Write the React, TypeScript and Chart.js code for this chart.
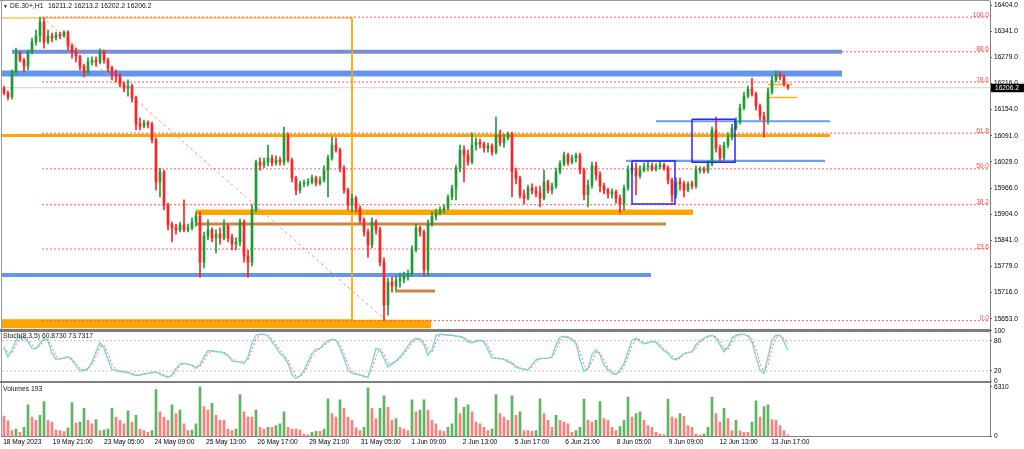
import { useEffect, useRef } from "react";
import { Chart, registerables } from "chart.js";

Chart.register(...registerables);

// ---------- data ----------
const SYMBOL = "DE.30+,H1";

const OPEN = [
  16205,16194,16184,16244,16289,16272,16258,16292,16316,16330,
  16363,16316,16330,16325,16332,16330,16339,16306,16292,16282,
  16258,16244,16268,16272,16268,16292,16272,16253,16239,16234,
  16215,16205,16210,16182,16119,16115,16122,16119,16081,15981,
  16005,15926,15878,15871,15866,15878,15866,15871,15885,15899,
  15789,15851,15866,15847,15856,15847,15875,15847,15832,15837,
  15885,15804,15789,15914,16028,16021,16028,16038,16026,16033,
  16028,16088,16033,15990,15961,15976,15978,15981,15990,15978,
  15985,16009,16038,16069,16057,16014,15961,15926,15942,15918,
  15890,15861,15830,15885,15866,15789,15686,15741,15732,15744,
  15749,15756,15761,15818,15871,15861,15770,15880,15899,15906,
  15914,15918,15945,15966,16014,16057,16045,16028,16069,16076,
  16072,16062,16067,16052,16093,16074,16086,16095,16005,15990,
  15950,15942,15966,15959,15954,15942,15981,15961,15971,16005,
  16024,16045,16028,16038,16045,16009,15950,15973,16019,15997,
  15971,15961,15952,15957,15942,15928,15966,16009,16014,15995,
  16009,16017,16019,16012,16017,16021,16014,15985,15950,15981,
  15976,15961,15976,15971,16009,16012,16007,16024,16105,16062,
  16038,16069,16088,16110,16124,16158,16186,16203,16191,16162,
  16138,16129,16196,16225,16237,16232,16211.2,
];
const HIGH = [
  16210,16198,16249,16301,16292,16277,16296,16325,16344,16375,
  16373,16344,16337,16339,16339,16342,16342,16311,16301,16284,
  16263,16277,16280,16280,16299,16296,16277,16258,16249,16239,
  16220,16225,16215,16186,16134,16129,16127,16124,16086,16014,
  16009,15930,15885,15880,15885,15938,15880,15895,15909,15909,
  15861,15890,15871,15866,15871,15890,15880,15856,15847,15892,
  15890,15818,15926,16033,16038,16038,16069,16045,16043,16040,
  16112,16098,16038,15995,15983,15985,15988,15997,15995,15993,
  16019,16045,16088,16086,16062,16019,15966,15952,15947,15923,
  15895,15868,15895,15890,15873,15799,15751,15753,15756,15763,
  15765,15770,15828,15880,15875,15866,15890,15909,15916,15921,
  15926,15950,15973,16021,16069,16067,16057,16098,16086,16083,
  16076,16074,16072,16136,16105,16095,16100,16100,16014,15995,
  15961,15973,15976,15969,15971,16009,15985,15978,16014,16031,
  16052,16050,16045,16050,16050,16014,15985,16028,16028,16005,
  15978,15966,15964,15961,15950,15973,16019,16024,16026,16019,
  16026,16031,16026,16024,16028,16026,16019,15990,15990,15990,
  15983,15981,15983,16019,16017,16017,16031,16112,16136,16069,
  16076,16098,16119,16134,16167,16196,16210,16229,16196,16167,
  16148,16205,16234,16246,16244,16237,16213.2,
];
const LOW = [
  16189,16177,16179,16239,16268,16244,16249,16287,16308,16316,
  16301,16311,16316,16320,16323,16327,16296,16277,16268,16249,
  16232,16239,16260,16258,16263,16265,16244,16225,16220,16208,
  16196,16186,16172,16105,16105,16110,16110,16074,15961,15945,
  15914,15866,15837,15856,15861,15861,15861,15866,15875,15753,
  15775,15842,15837,15811,15832,15842,15837,15818,15818,15828,
  15789,15753,15780,15909,16009,16014,16019,16019,16021,16021,
  16021,16028,15981,15950,15954,15969,15971,15976,15971,15973,
  15981,15945,16033,16052,16005,15954,15914,15909,15909,15883,
  15851,15801,15823,15856,15780,15649,15662,15717,15722,15729,
  15739,15746,15756,15813,15851,15756,15756,15875,15890,15902,
  15906,15914,15938,15938,16005,15981,16021,16024,16057,16062,
  16052,16052,16045,16048,16067,16064,16081,15945,15976,15942,
  15928,15938,15952,15945,15921,15938,15954,15952,15966,16000,
  16019,16021,16024,16028,16000,15938,15921,15966,15985,15957,
  15952,15942,15942,15930,15906,15914,15961,16000,15950,15990,
  16005,16007,16007,16007,16012,16009,15976,15933,15942,15961,
  15945,15957,15964,15966,16002,16002,16002,16019,16052,16031,
  16033,16062,16081,16105,16119,16153,16182,16186,16153,16129,
  16088,16119,16191,16220,16225,16210,16202.2,
];
const CLOSE = [
  16194,16184,16244,16289,16272,16258,16292,16316,16330,16363,
  16316,16330,16325,16332,16330,16339,16306,16292,16282,16258,
  16244,16268,16272,16268,16292,16272,16253,16239,16234,16215,
  16205,16210,16182,16119,16115,16122,16119,16081,15981,16005,
  15926,15878,15871,15866,15878,15866,15871,15885,15899,15789,
  15851,15866,15847,15856,15847,15875,15847,15832,15837,15885,
  15804,15789,15914,16028,16021,16028,16038,16026,16033,16028,
  16088,16033,15990,15961,15976,15978,15981,15990,15978,15985,
  16009,16038,16069,16057,16014,15961,15926,15942,15918,15890,
  15861,15830,15885,15866,15789,15686,15741,15732,15744,15749,
  15756,15761,15818,15871,15861,15770,15880,15899,15906,15914,
  15918,15945,15966,16014,16057,16045,16028,16069,16076,16072,
  16062,16067,16052,16093,16074,16086,16095,16005,15990,15950,
  15942,15966,15959,15954,15942,15981,15961,15971,16005,16024,
  16045,16028,16038,16045,16009,15950,15973,16019,15997,15971,
  15961,15952,15957,15942,15928,15966,16009,16014,15995,16009,
  16017,16019,16012,16017,16021,16014,15985,15950,15981,15976,
  15961,15976,15971,16009,16012,16007,16024,16105,16062,16038,
  16069,16088,16110,16124,16158,16186,16203,16191,16162,16138,
  16129,16196,16225,16237,16232,16215,16206.2,
];
const VOLUME = [
  2600,2000,740,950,520,1170,4000,2470,2040,2690,
  4430,2040,1820,820,740,610,1085,4300,1690,1820,
  3560,2040,1600,2130,740,820,950,3560,2470,2040,
  1600,3250,1820,2690,950,740,520,740,5950,3130,
  2470,2040,4000,2900,3340,1600,740,820,1600,6300,
  3780,3340,4200,2690,2040,2040,950,740,950,5300,
  3130,2470,2470,3340,1170,950,1170,1170,1390,1600,
  3130,1170,950,950,820,300,220,520,650,650,
  950,4770,2900,2470,4640,3560,2470,2040,1085,740,
  1170,6160,3560,2260,3560,5160,3690,2040,2260,1170,
  950,740,4640,3130,3340,4640,3340,2040,1600,740,
  650,1170,1600,4860,2900,3690,4000,3130,1820,1600,
  1170,740,950,5300,2900,2470,2040,5160,2690,3130,
  740,740,650,740,4770,2900,2040,1170,2690,2040,
  1820,1600,520,740,1170,4730,2040,1820,2040,4430,
  2260,2040,1170,740,1260,2040,5000,2470,2900,3130,
  2040,1390,1170,520,300,220,4730,2470,2260,2900,
  2560,1390,1170,300,170,300,1170,5000,2900,1820,
  3560,2260,740,2040,740,520,520,1820,4510,2470,
  3780,4000,2130,2040,1390,740,193,
];
const STOCH_PARAMS = "8,3,5";
const STOCH_MAIN = [
  65,48,62,81,90,85,78,65,64,75,
  85,80,55,43,44,46,48,42,30,21,
  21,25,38,58,76,65,42,23,21,19,
  18,17,13,11,12,14,15,17,18,13,
  10,7,12,25,34,35,33,31,25,32,
  48,60,60,58,58,55,50,40,38,38,
  35,48,75,91,93,93,89,78,68,55,
  48,35,12,5,10,21,38,55,63,65,
  74,80,83,81,65,45,22,15,14,12,
  9,7,35,65,62,45,28,35,40,48,
  58,70,80,85,83,72,52,62,91,93,
  92,91,91,89,88,85,78,76,80,81,
  78,62,46,45,44,43,38,35,27,25,
  23,22,32,42,45,45,45,48,72,87,
  89,86,83,74,42,19,25,52,62,52,
  32,22,15,13,22,35,58,81,85,78,
  74,76,79,77,68,60,55,45,42,48,
  55,57,58,72,80,85,89,91,85,72,
  58,68,85,91,93,93,89,78,48,22,
  15,48,81,91,91,78,60.873,
];
const STOCH_SIGNAL = [
  68,56,55,72,86,88,82,72,65,70,
  80,83,68,49,44,45,47,45,36,26,
  21,23,32,48,67,71,54,33,22,20,
  19,18,15,12,12,13,15,16,18,16,
  12,9,10,19,30,35,34,32,28,29,
  40,54,60,59,58,57,53,45,39,38,
  37,42,62,83,92,93,91,84,73,62,
  52,42,24,9,8,16,30,47,59,64,
  70,77,82,82,73,55,34,19,15,13,
  11,8,21,50,64,54,37,32,38,44,
  53,64,75,83,84,78,62,57,77,92,
  93,92,91,90,89,87,82,77,78,81,
  80,70,54,46,45,44,41,37,31,26,
  24,23,27,37,44,45,45,47,60,80,
  88,88,85,79,58,31,22,39,57,57,
  42,27,19,14,18,29,47,70,83,82,
  76,75,78,78,73,64,58,50,44,45,
  52,56,58,65,76,83,87,90,88,79,
  65,63,77,88,92,93,91,84,63,35,
  19,32,65,86,91,85,73.7317,
];

const PRICE_TICKS = [16404, 16341, 16279, 16216, 16154, 16091, 16029, 15966, 15904, 15841, 15779, 15716, 15653];
const STOCH_TICKS = [100, 80, 20, 0];
const STOCH_LEVELS = [80, 20];
const VOLUME_TICKS = [6310, 0];

const TIME_LABELS = [
  "18 May 2023", "19 May 21:00", "23 May 05:00", "24 May 09:00", "25 May 13:00", "26 May 17:00",
  "29 May 21:00", "31 May 05:00", "1 Jun 09:00", "2 Jun 13:00", "5 Jun 17:00", "6 Jun 21:00",
  "8 Jun 05:00", "9 Jun 09:00", "12 Jun 13:00", "13 Jun 17:00",
];
// bar position (index units) of each time label
const TIME_POS = [-0.2, 12.2, 25, 37.6, 50.5, 63.4, 76.3, 89.2, 101.9, 114.7, 127.7, 140.3, 153.2, 166.2, 178.9, 191.8];

// Fibonacci retracement anchors
const FIB_HIGH = 16375;
const FIB_LOW = 15649;
const FIB_FROM = 9.5;
const FIB_TO = 95.5;
const FIB_LEVELS = [100, 88.6, 78.6, 61.8, 50, 38.2, 23.6, 0];

// horizontal zones: price + bar range
const ZONES = [
  { kind: "blueWide", price: 16240, from: -3, to: 209.5 },
  { kind: "blue", price: 16292, from: 2, to: 209.5 },
  { kind: "orange", price: 16092, from: -3, to: 206.5 },
  { kind: "orangeWide", price: 15908, from: 48, to: 172.25 },
  { kind: "brown", price: 15880, from: 48, to: 165.5 },
  { kind: "blue", price: 15758, from: -3, to: 161.75 },
  { kind: "orangeBase", price: 15641, from: -3, to: 106.75 },
  { kind: "brown", price: 15720, from: 97.75, to: 107.75 },
  { kind: "blueThin", price: 16126, from: 163, to: 206.5 },
  { kind: "blueThin", price: 16031, from: 155.5, to: 205.25 },
  { kind: "orangeThin", price: 16214, from: 191, to: 197 },
  { kind: "orangeThin", price: 16183, from: 191, to: 198.25 },
];
const BOXES = [
  { kind: "orangeFrame", from: -3, to: 87, top: 16373, bottom: 15651 },
  { kind: "blueFrame", from: 157, to: 167.75, top: 16031, bottom: 15928 },
  { kind: "blueFrame", from: 172, to: 182.75, top: 16131, bottom: 16028 },
];

// ---------- styles ----------
const FONT = '"Liberation Sans", Arial, sans-serif';
const FS = 6.6;
const BULL = "#1f9b35";
const BEAR = "#ff2323";
const VOL_UP = "#5fb55f";
const VOL_DOWN = "#fb7f7f";
const AXIS = "#7f7f7f";
const X_MIN = -0.5;
const X_MAX = 246.5;
const PRICE_MIN = 15624.9;
const PRICE_MAX = 16413.6;
const VOL_MAX = 7030;

const ZONE_STYLE: Record<string, { color: string; width: number }> = {
  blueWide: { color: "#6495ed", width: 6 },
  blue: { color: "#6495ed", width: 4 },
  blueThin: { color: "#6d9cf0", width: 2.2 },
  orange: { color: "#ffa500", width: 3 },
  orangeWide: { color: "#ffa500", width: 5.5 },
  orangeBase: { color: "#ffa500", width: 8.5 },
  brown: { color: "#cd8546", width: 3 },
  orangeThin: { color: "#ffae1f", width: 1.5 },
  orangeFrame: { color: "#ffa500", width: 1 },
  blueFrame: { color: "#2626ff", width: 1.5 },
};

function lineSet(points: { x: number; y: number }[], color: string, width: number, order: number, axis = "y", dash: number[] = []) {
  return {
    type: "line" as const,
    data: points,
    borderColor: color,
    borderWidth: width,
    borderDash: dash,
    pointRadius: 0,
    tension: 0,
    fill: false,
    yAxisID: axis,
    order,
  };
}

const overlayPlugin = {
  id: "mtOverlay",
  afterDatasetsDraw(chart: any) {
    const { ctx, chartArea } = chart;
    const y = chart.scales.y;
    ctx.save();
    ctx.font = `${FS}px ${FONT}`;
    ctx.fillStyle = "#ff4a4a";
    ctx.textAlign = "right";
    ctx.textBaseline = "alphabetic";
    FIB_LEVELS.forEach((l) => {
      const p = FIB_LOW + ((FIB_HIGH - FIB_LOW) * l) / 100;
      ctx.fillText(l.toFixed(1), chartArea.right - 1, y.getPixelForValue(p) - 0.5);
    });
    const last = CLOSE[CLOSE.length - 1];
    const py = y.getPixelForValue(last);
    ctx.fillStyle = "#000";
    ctx.fillRect(chartArea.right + 1, py - 4, 34, 8.5);
    ctx.fillStyle = "#fff";
    ctx.textAlign = "left";
    ctx.textBaseline = "middle";
    ctx.fillText(last.toFixed(1), chartArea.right + 5, py + 0.5);
    ctx.restore();
  },
};

function fixAxis(size: { width?: number; height?: number }) {
  return (s: any) => {
    if (size.width !== undefined) s.width = size.width;
    if (size.height !== undefined) s.height = size.height;
    s.paddingTop = 0;
    s.paddingBottom = 0;
    s.paddingLeft = 0;
    s.paddingRight = 0;
  };
}

function yAxis(weight: number, min: number, max: number, ticks: number[], fmt: (v: number) => string) {
  return {
    type: "linear" as const,
    position: "right" as const,
    stack: "panes",
    stackWeight: weight,
    min,
    max,
    grid: { display: true, drawOnChartArea: false, drawTicks: true, tickLength: 2, color: AXIS, tickColor: "#555" },
    border: { display: true, color: AXIS, width: 1 },
    ticks: { autoSkip: false, padding: 2, color: "#000", font: { family: FONT, size: FS }, callback: (v: any) => fmt(Number(v)) },
    afterBuildTicks: (s: any) => {
      s.ticks = ticks.map((v) => ({ value: v }));
    },
    afterFit: fixAxis({ width: 34 }),
  };
}

export default function App() {
  const ref = useRef<HTMLCanvasElement>(null);

  useEffect(() => {
    const idx = CLOSE.map((_, i) => i);
    const candleColors = idx.map((i) => (CLOSE[i] >= OPEN[i] ? BULL : BEAR));
    const volColors = idx.map((i) => (i > 0 && VOLUME[i] > VOLUME[i - 1] ? VOL_UP : VOL_DOWN));
    const datasets: any[] = [];

    ZONES.forEach((z) => {
      const st = ZONE_STYLE[z.kind];
      datasets.push(lineSet([{ x: z.from, y: z.price }, { x: z.to, y: z.price }], st.color, st.width, 4));
    });
    // bid line
    const lastClose = CLOSE[CLOSE.length - 1];
    datasets.push(lineSet([{ x: X_MIN - 1, y: lastClose }, { x: X_MAX + 1, y: lastClose }], "#d4d4d4", 1, 5));
    // fibonacci
    FIB_LEVELS.forEach((l) => {
      const p = FIB_LOW + ((FIB_HIGH - FIB_LOW) * l) / 100;
      datasets.push(lineSet([{ x: FIB_FROM, y: p }, { x: X_MAX, y: p }], "#ff5a5a", 1, 2, "y", [2, 2]));
    });
    datasets.push(lineSet([{ x: FIB_FROM, y: FIB_HIGH }, { x: FIB_TO, y: FIB_LOW }], "#ff8f8f", 1, 2, "y", [3, 3]));
    // boxes
    BOXES.forEach((b) => {
      const st = ZONE_STYLE[b.kind];
      datasets.push(
        lineSet(
          [
            { x: b.from, y: b.top },
            { x: b.to, y: b.top },
            { x: b.to, y: b.bottom },
            { x: b.from, y: b.bottom },
            { x: b.from, y: b.top },
          ],
          st.color,
          st.width,
          b.kind === "orangeFrame" ? 3 : -1
        )
      );
    });
    // candles
    datasets.push({
      type: "bar",
      data: idx.map((i) => ({ x: i, y: [LOW[i], HIGH[i]] })),
      backgroundColor: candleColors,
      barThickness: 1,
      grouped: false,
      yAxisID: "y",
      order: 1,
    });
    datasets.push({
      type: "bar",
      data: idx.map((i) => ({ x: i, y: [OPEN[i], CLOSE[i]] })),
      backgroundColor: candleColors,
      barThickness: 2,
      minBarLength: 1,
      grouped: false,
      yAxisID: "y",
      order: 0,
    });
    // stochastic
    STOCH_LEVELS.forEach((lv) => {
      datasets.push(lineSet([{ x: X_MIN, y: lv }, { x: X_MAX, y: lv }], "#c4c4c4", 1, 3, "ys", [2, 2]));
    });
    datasets.push(lineSet(idx.map((i) => ({ x: i, y: STOCH_SIGNAL[i] })), "#ff6a6a", 1, 1, "ys", [2, 2]));
    datasets.push(lineSet(idx.map((i) => ({ x: i, y: STOCH_MAIN[i] })), "#79d6d6", 1.4, 0, "ys"));
    // volumes
    datasets.push({
      type: "bar",
      data: idx.map((i) => ({ x: i, y: VOLUME[i] })),
      backgroundColor: volColors,
      barThickness: 2,
      grouped: false,
      yAxisID: "yv",
      order: 0,
    });

    const chart = new Chart(ref.current as HTMLCanvasElement, {
      type: "line",
      data: { datasets },
      options: {
        responsive: false,
        animation: false,
        events: [],
        layout: { padding: { left: 2, top: 1, right: 0, bottom: 0 } },
        plugins: { legend: { display: false }, tooltip: { enabled: false }, title: { display: false } },
        scales: {
          x: {
            type: "linear",
            position: "bottom",
            min: X_MIN,
            max: X_MAX,
            offset: false,
            grid: { display: false, drawTicks: false },
            border: { display: true, color: AXIS, width: 1 },
            ticks: {
              align: "start",
              autoSkip: false,
              maxRotation: 0,
              minRotation: 0,
              padding: 2,
              color: "#000",
              font: { family: FONT, size: FS },
              callback: (_v: any, i: number) => TIME_LABELS[i],
            },
            afterBuildTicks: (s: any) => {
              s.ticks = TIME_POS.map((v) => ({ value: v }));
            },
            afterFit: fixAxis({ height: 12.5 }),
          } as any,
          y: yAxis(329.7, PRICE_MIN, PRICE_MAX, PRICE_TICKS, (v) => v.toFixed(1)) as any,
          ys: yAxis(50.3, 0, 100, STOCH_TICKS, (v) => String(v)) as any,
          yv: yAxis(55.5, 0, VOL_MAX, VOLUME_TICKS, (v) => String(v)) as any,
        },
      },
      plugins: [overlayPlugin],
    } as any);
    return () => chart.destroy();
  }, []);

  const n = CLOSE.length - 1;
  const ohlc = [OPEN[n], HIGH[n], LOW[n], CLOSE[n]].map((v) => v.toFixed(1)).join(" ");
  const text = { position: "absolute" as const, font: `6.8px ${FONT}`, color: "#111", whiteSpace: "pre" as const, lineHeight: "8px" };

  return (
    <div style={{ position: "absolute", left: 0, top: 0, width: 1024, height: 449, background: "#fff", overflow: "hidden" }}>
      <canvas ref={ref} width={1024} height={449} style={{ position: "absolute", left: 0, top: 0 }} />
      <div style={{ position: "absolute", left: 0, top: 0, width: 990, height: 1, background: "#9a9a9a" }} />
      <div style={{ position: "absolute", left: 1, top: 0, width: 1, height: 437, background: "#9a9a9a" }} />
      <div style={{ position: "absolute", left: 0, top: 329, width: 990, height: 2.5, background: "#7d7d7d" }} />
      <div style={{ position: "absolute", left: 0, top: 381, width: 990, height: 2, background: "#7d7d7d" }} />
      <div style={{ ...text, left: 3, top: 2, fontSize: 5 }}>▼</div>
      <div style={{ ...text, left: 10, top: 2 }}>{SYMBOL}</div>
      <div style={{ ...text, left: 48, top: 2 }}>{ohlc}</div>
      <div style={{ ...text, left: 3, top: 332 }}>
        {`Stoch(${STOCH_PARAMS}) ${STOCH_MAIN[n].toFixed(4)} ${STOCH_SIGNAL[n].toFixed(4)}`}
      </div>
      <div style={{ ...text, left: 3, top: 385 }}>{`Volumes ${VOLUME[n]}`}</div>
    </div>
  );
}
